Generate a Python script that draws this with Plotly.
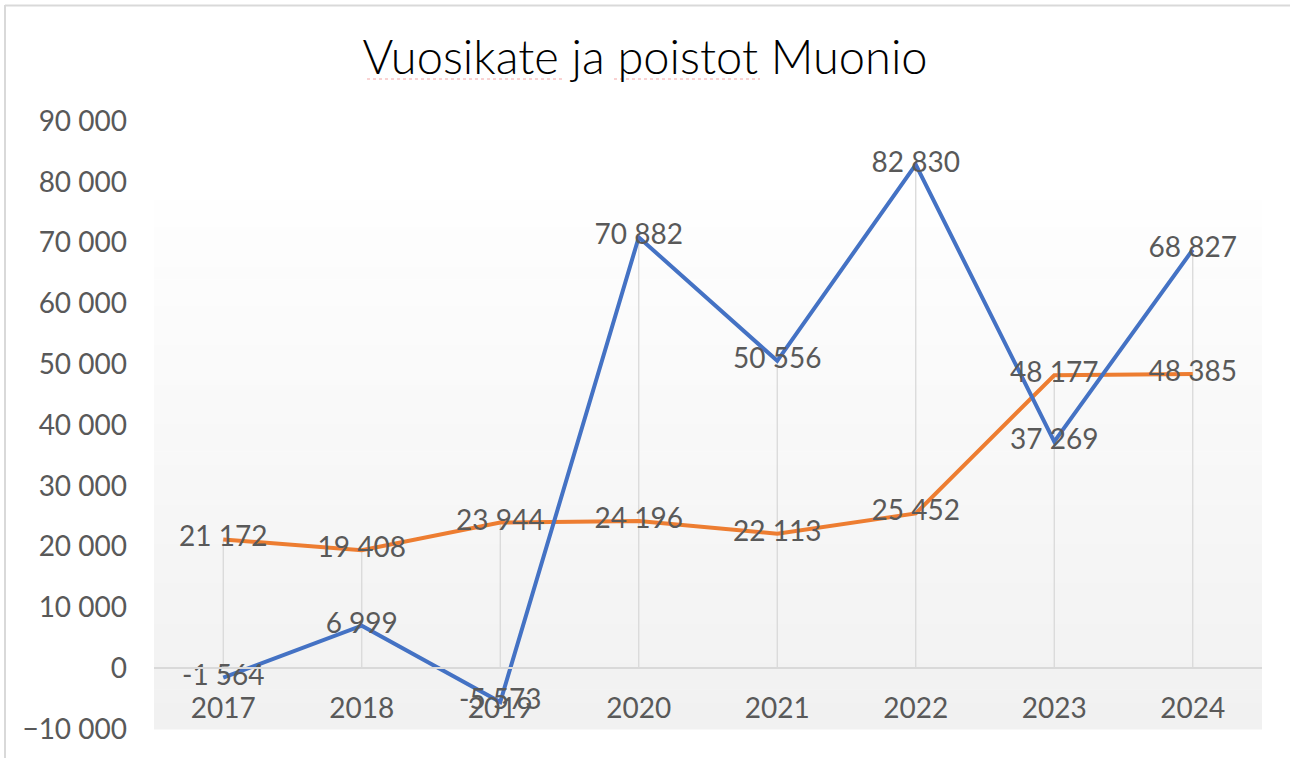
import plotly.graph_objects as go

years = ["2017", "2018", "2019", "2020", "2021", "2022", "2023", "2024"]
vuosikate = [-1564, 6999, -5573, 70882, 50556, 82830, 37269, 68827]
poistot = [21172, 19408, 23944, 24196, 22113, 25452, 48177, 48385]
y_ticks = [-10000, 0, 10000, 20000, 30000, 40000, 50000, 60000, 70000, 80000, 90000]

W, H = 1290, 758
L, R, T, B = 154, 1262, 121, 729
FONT = "Lato"
GREY = "#595959"
BLUE = "#4472C4"
ORANGE = "#ED7D31"


def px_x(p):
    return (p - L) / (R - L)


def px_y(p):
    return (B - p) / (B - T)


fig = go.Figure()

# drop lines from the highest point of each category down to the axis
dx, dy = [], []
for c, a, b in zip(years, vuosikate, poistot):
    dx += [c, c, None]
    dy += [max(a, b), 0, None]
fig.add_trace(go.Scatter(x=dx, y=dy, mode="lines", line=dict(color="#d9d9d9", width=1.3),
                         hoverinfo="skip", showlegend=False))

fig.add_trace(go.Scatter(x=years, y=poistot, mode="lines", name="Poistot",
                         line=dict(color=ORANGE, width=4), showlegend=False))
fig.add_trace(go.Scatter(x=years, y=vuosikate, mode="lines", name="Vuosikate",
                         line=dict(color=BLUE, width=4), showlegend=False))

for series in (poistot, vuosikate):
    fig.add_trace(go.Scatter(x=years, y=series, mode="text", texttemplate="%{y:,d}",
                             textposition="middle center",
                             textfont=dict(family=FONT, size=28, color=GREY),
                             hoverinfo="skip", showlegend=False))

# gradient background of the plot area
top_px = 200
n = 40
shapes = []
for i in range(n):
    y0p = top_px + (B - top_px) * i / n
    y1p = top_px + (B - top_px) * (i + 1) / n
    t = (i + 0.5) / n
    v = round(254 - (254 - 241) * t)
    col = f"rgb({v},{v},{v})"
    shapes.append(dict(type="rect", xref="paper", yref="paper", x0=0, x1=1,
                       y0=px_y(y1p + 0.5), y1=px_y(y0p), fillcolor=col,
                       line=dict(width=0), layer="below"))

# chart border (top and left)
shapes.append(dict(type="line", xref="paper", yref="paper", x0=px_x(5), x1=px_x(1300),
                   y0=px_y(5.5), y1=px_y(5.5), line=dict(color="#d9d9d9", width=2)))
shapes.append(dict(type="line", xref="paper", yref="paper", x0=px_x(5), x1=px_x(5),
                   y0=px_y(5), y1=px_y(770), line=dict(color="#d9d9d9", width=2)))

# spell-check underlines under the title words
for x0p, x1p in [(367, 562), (614, 760)]:
    shapes.append(dict(type="line", xref="paper", yref="paper", x0=px_x(x0p), x1=px_x(x1p),
                       y0=px_y(79), y1=px_y(79), line=dict(color="#f3a6a6", width=1.2, dash="dot")))

fig.update_layout(
    width=W, height=H,
    margin=dict(l=L, r=W - R, t=T, b=H - B, pad=0),
    paper_bgcolor="white", plot_bgcolor="white",
    separators=", ",
    font=dict(family=FONT, color=GREY),
    title=dict(text="Vuosikate ja poistot Muonio", x=0.5, xref="container", xanchor="center",
               y=1 - 58 / H, yref="container", yanchor="middle",
               font=dict(family=FONT, size=47, color="black", weight=300)),
    shapes=shapes,
    xaxis=dict(type="category", range=[-0.5, 7.5], showgrid=False, zeroline=False,
               showline=True, linecolor="#d9d9d9", linewidth=1.5,
               anchor="free", position=px_y(668),
               ticks="", ticklabelstandoff=16,
               tickfont=dict(family=FONT, size=28, color=GREY)),
    yaxis=dict(range=[-10000, 90000], tickvals=y_ticks, tickformat=",d",
               showgrid=False, zeroline=False, showline=False, ticks="",
               ticklabelstandoff=26,
               tickfont=dict(family=FONT, size=28, color=GREY)),
    showlegend=False,
)

fig.write_html("out.html", config={"displayModeBar": False},
               post_script="document.body.style.margin='0';document.body.style.overflow='hidden';")
